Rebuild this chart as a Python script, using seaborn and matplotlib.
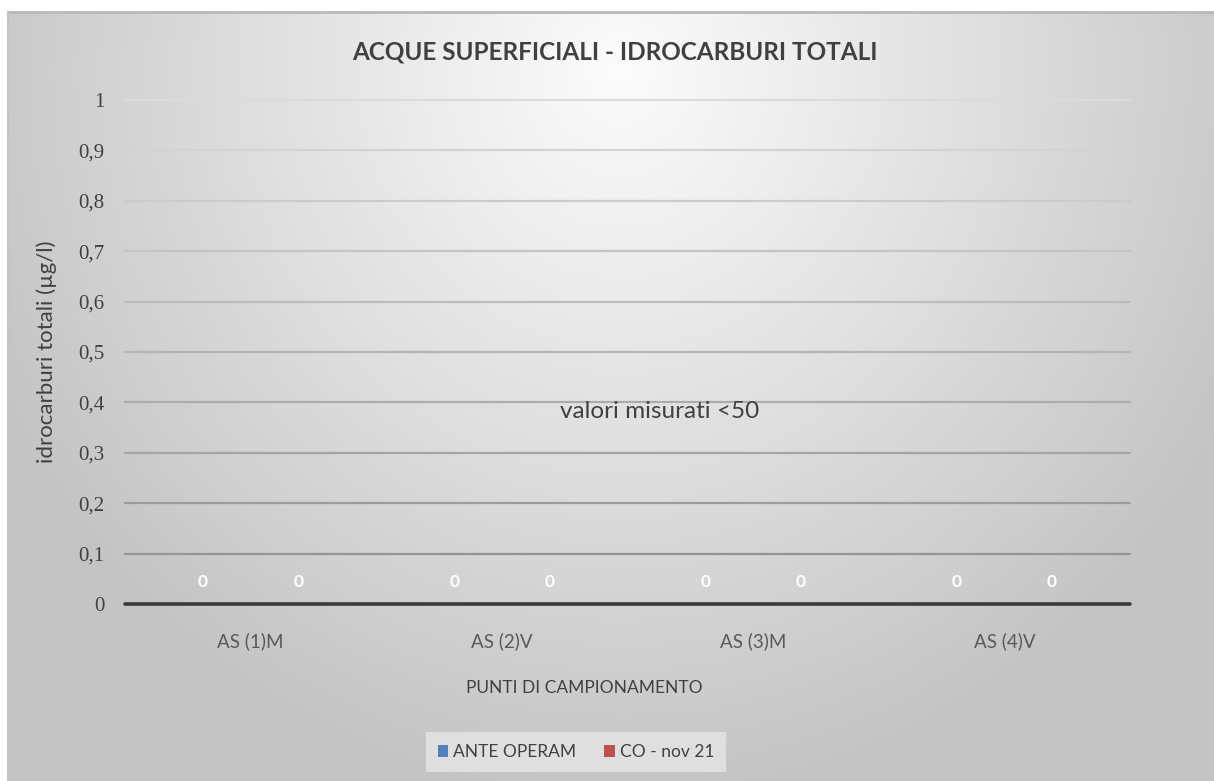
import numpy as np
import pandas as pd
import matplotlib
matplotlib.use("Agg")
import matplotlib.pyplot as plt
from matplotlib.patches import Patch
import seaborn as sns

# Data
punti = ["AS (1)M", "AS (2)V", "AS (3)M", "AS (4)V"]
ante_operam = [0, 0, 0, 0]
co_nov21 = [0, 0, 0, 0]
serie = ["ANTE OPERAM", "CO - nov 21"]
y_ticks = [0, 0.1, 0.2, 0.3, 0.4, 0.5, 0.6, 0.7, 0.8, 0.9, 1]
y_tick_labels = ["0", "0,1", "0,2", "0,3", "0,4", "0,5", "0,6", "0,7", "0,8", "0,9", "1"]

df = pd.DataFrame({
    "punto": punti * 2,
    "serie": [serie[0]] * len(punti) + [serie[1]] * len(punti),
    "valore": ante_operam + co_nov21,
})

sns.set_theme(style="white")
plt.rcParams["font.family"] = ["Lato", "DejaVu Sans"]

W, H = 1214, 781
fig = plt.figure(figsize=(W / 100, H / 100), dpi=100, facecolor="white")

# Chart area background: soft radial gradient
bg = fig.add_axes([8 / W, 0, 1 - 8 / W, 1 - 12 / H], zorder=-10)
yy, xx = np.mgrid[12:H, 8:W]
d = np.sqrt(((xx - 620) / 720.0) ** 2 + ((yy - 70) / 760.0) ** 2)
g = np.clip(252 - 58 * d, 196, 252) / 255.0
bg.imshow(np.dstack([g, g, g]), aspect="auto", extent=[0, 1, 0, 1], origin="upper")
bg.set_xlim(0, 1)
bg.set_ylim(0, 1)
bg.axis("off")
fig.add_artist(plt.Line2D([8 / W, 1], [1 - 12 / H, 1 - 12 / H], color="#b8b8b8", lw=2))
fig.add_artist(plt.Line2D([8 / W, 8 / W], [0, 1 - 12 / H], color="#c4c4c4", lw=1.5))

ax = fig.add_axes([125 / W, 1 - 604 / H, (1130 - 125) / W, (604 - 100) / H])
ax.patch.set_alpha(0)

palette = {serie[0]: "#4f81bd", serie[1]: "#c0504d"}
sns.barplot(data=df, x="punto", y="valore", hue="serie", palette=palette,
            width=0.76, ax=ax, legend=False)

for c in ax.containers:
    ax.bar_label(c, labels=[f"{v:g}" for v in c.datavalues], padding=10,
                 color="white", fontsize=12.5, fontweight="bold")

ax.set_xlim(-0.5, len(punti) - 0.5)
ax.set_ylim(0, 1)
ax.set_yticks(y_ticks)
ax.set_yticklabels(y_tick_labels, family=["Liberation Serif", "DejaVu Serif"],
                   fontsize=15, color="#404040")
ax.set_xticks(range(len(punti)))
ax.set_xticklabels(punti, fontsize=13.5, color="#595959")
ax.tick_params(axis="y", length=0, pad=15)
ax.tick_params(axis="x", length=0, pad=20)
ax.set_xlabel("")
ax.set_ylabel("")
for s in ax.spines.values():
    s.set_visible(False)

# Horizontal gridlines, darker toward the baseline
for t in y_ticks[1:]:
    shade = 0.86 - 0.31 * (1 - t)
    ax.axhline(t, color=(shade, shade, shade), lw=1.6, zorder=0, clip_on=False)
ax.axhline(0, color="#3a3a3a", lw=2.6, zorder=3, clip_on=False)

ax.text(0.532, 0.381, "valori misurati <50", transform=ax.transAxes,
        ha="center", va="center", fontsize=17.5, color="#404040")

fig.text(615 / W, 1 - 52 / H, "ACQUE SUPERFICIALI - IDROCARBURI TOTALI",
         ha="center", va="center", fontsize=17.5, color="#404040", fontweight="bold")
fig.text(584 / W, 1 - 688 / H, "PUNTI DI CAMPIONAMENTO",
         ha="center", va="center", fontsize=12.5, color="#404040")
fig.text(47 / W, 1 - 352 / H, "idrocarburi totali (µg/l)", rotation=90,
         ha="center", va="center", fontsize=16, color="#404040")

# Legend
handles = [Patch(facecolor=palette[s], edgecolor="none") for s in serie]
leg = fig.legend(handles, serie, loc="center", bbox_to_anchor=(576 / W, 1 - 752 / H),
                 ncol=2, frameon=True, fontsize=12.5, handlelength=0.6, handleheight=0.7,
                 handletextpad=0.3, columnspacing=1.6, borderpad=0.7, fancybox=False)
leg.get_frame().set_facecolor("#e2e2e2")
leg.get_frame().set_edgecolor("none")
leg.get_frame().set_alpha(0.9)
for t in leg.get_texts():
    t.set_color("#404040")

fig.savefig("out.png", dpi=100, facecolor="white")
